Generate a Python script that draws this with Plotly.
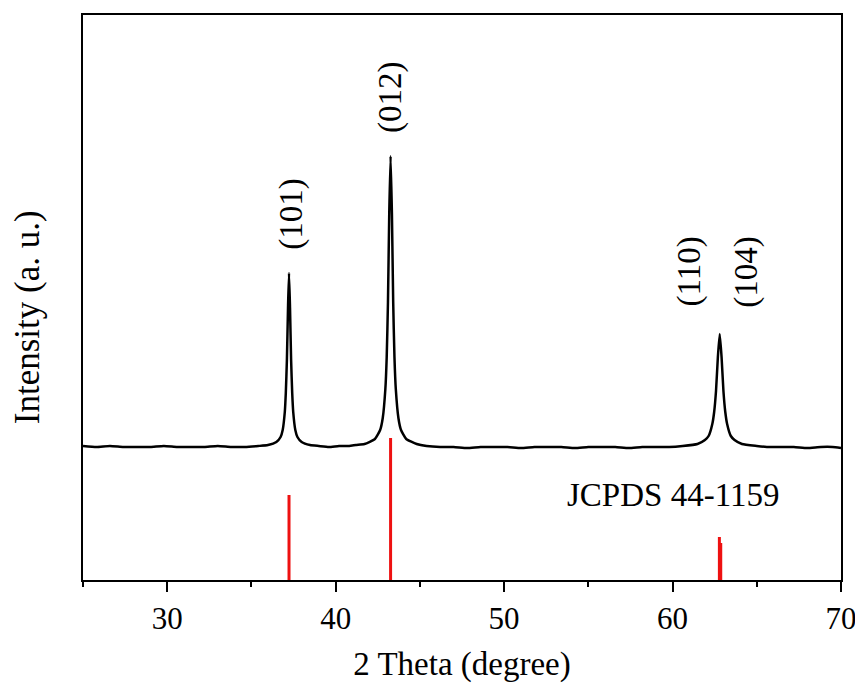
import plotly.graph_objects as go

# Measured XRD pattern (2θ in degrees, intensity in arbitrary units)
two_theta = [
    25.0, 25.8, 26.6, 27.4, 28.2, 29.0, 29.8, 30.6, 31.4, 32.2, 33.0, 33.8, 34.6, 35.4,
    35.98, 36.48, 36.73, 36.855, 36.98, 37.04, 37.105, 37.17, 37.23, 37.29, 37.355, 37.42,
    37.48, 37.605, 37.73, 37.98, 38.48,
    39.0, 39.6, 40.2, 40.8, 41.2,
    41.71, 42.33, 42.64, 42.795, 42.95, 43.03, 43.105, 43.18, 43.26, 43.34, 43.415, 43.49,
    43.57, 43.725, 43.88, 44.19, 44.81,
    45.4, 46.2, 47.0, 47.8, 48.6, 49.4, 50.2, 51.0, 51.8, 52.6, 53.4, 54.2, 55.0, 55.8,
    56.6, 57.4, 58.2, 59.0, 59.8,
    60.6, 61.48, 61.92, 62.14, 62.36, 62.47, 62.58, 62.69, 62.8, 62.91, 63.02, 63.13,
    63.24, 63.46, 63.68, 64.12, 65.0,
    65.6, 66.4, 67.2, 68.0, 68.8, 69.5, 70.0,
]
intensity = [
    134, 133, 134, 133, 133, 133, 134, 133, 133, 133, 134, 133, 133, 134,
    135, 138, 143, 150, 168, 187, 220, 272, 307, 272, 220, 187,
    168, 150, 143, 138, 135,
    134, 133, 134, 134, 135,
    136, 141, 150, 162, 191, 223, 278, 366, 424, 366, 278, 223,
    191, 162, 150, 141, 136,
    134, 133, 133, 132, 133, 133, 133, 132, 133, 133, 133, 132, 133, 133,
    133, 132, 133, 133, 133,
    134, 136, 140, 144, 156, 168, 189, 223, 246, 223, 189, 168,
    156, 144, 140, 136, 134,
    133, 133, 133, 132, 133, 133, 132,
]

# JCPDS 44-1159 reference lines
ref_pos = [37.23, 43.26, 62.78, 62.86]
ref_int = [85, 142, 43, 37]

# Peak labels
hkl_labels = ["(101)", "(012)", "(110)", "(104)"]
hkl_x = [37.33, 43.22, 60.95, 64.35]
hkl_y = [366, 483, 308, 308]

FONT = "Liberation Serif, Times New Roman, serif"

fig = go.Figure()

fig.add_trace(go.Scatter(
    x=two_theta, y=intensity, mode="lines",
    line=dict(color="black", width=2.5, shape="spline", smoothing=0.5),
    showlegend=False, hoverinfo="skip",
))

ref_x, ref_y = [], []
for p, h in zip(ref_pos, ref_int):
    ref_x += [p, p, None]
    ref_y += [0, h, None]
fig.add_trace(go.Scatter(
    x=ref_x, y=ref_y, mode="lines",
    line=dict(color="#ee1111", width=3),
    showlegend=False, hoverinfo="skip",
))

for t, xx, yy in zip(hkl_labels, hkl_x, hkl_y):
    fig.add_annotation(x=xx, y=yy, text=t, textangle=-90, showarrow=False,
                       font=dict(family=FONT, size=33, color="black"))

fig.add_annotation(x=60.0, y=85, text="JCPDS 44-1159", showarrow=False,
                   xanchor="center",
                   font=dict(family=FONT, size=33, color="black"))

# y-axis title placed as annotation (its centre sits below the plot centre)
fig.add_annotation(xref="paper", yref="paper", x=-0.074, y=0.465,
                   text="Intensity (a. u.)", textangle=-90, showarrow=False,
                   xanchor="center", yanchor="middle",
                   font=dict(family=FONT, size=35, color="black"))

fig.update_layout(
    width=855, height=683,
    margin=dict(l=75, r=22, t=7, b=111),
    paper_bgcolor="white", plot_bgcolor="white",
    font=dict(family=FONT, size=30, color="black"),
    xaxis=dict(
        range=[25, 70], showgrid=False, zeroline=False, automargin=False,
        showline=True, linecolor="black", linewidth=2, mirror=True,
        tickmode="array", tickvals=[30, 40, 50, 60, 70],
        ticks="outside", ticklen=10, tickwidth=2, tickcolor="black",
        minor=dict(tickmode="array", tickvals=[25, 35, 45, 55, 65],
                   ticks="outside", ticklen=5, tickwidth=2, tickcolor="black",
                   showgrid=False),
        tickfont=dict(family=FONT, size=31),
        title=dict(text="2 Theta (degree)", standoff=17,
                   font=dict(family=FONT, size=33)),
    ),
    yaxis=dict(
        range=[0, 565], showgrid=False, zeroline=False, automargin=False,
        showline=True, linecolor="black", linewidth=2, mirror=True,
        showticklabels=False, ticks="",
    ),
)

fig.write_html("out.html")
